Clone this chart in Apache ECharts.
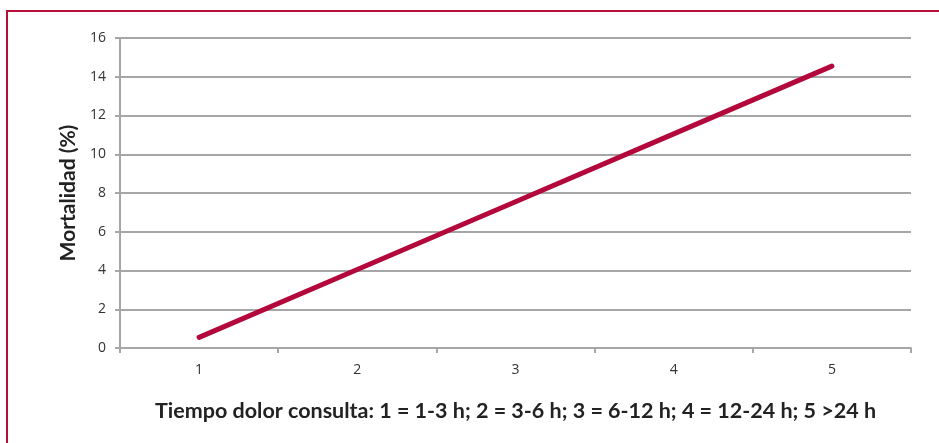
<!DOCTYPE html>
<html><head><meta charset="utf-8">
<script src="https://cdn.jsdelivr.net/npm/echarts@6/dist/echarts.min.js"></script>
<style>html,body{margin:0;padding:0;background:#fff}#c{width:939px;height:443px}</style>
</head><body><div id="c"></div>
<script>
const categories = ['1','2','3','4','5'];
const mortalidad = [0.55, 4.05, 7.55, 11.05, 14.55];
const yTicks = {min:0, max:16, interval:2};
const xTitle = 'Tiempo dolor consulta: 1 = 1-3 h; 2 = 3-6 h; 3 = 6-12 h; 4 = 12-24 h; 5 >24 h';
const yTitle = 'Mortalidad (%)';

const chart = echarts.init(document.getElementById('c'));
const gray = '#a6a6a6';
chart.setOption({
  animation:false,
  textStyle:{fontFamily:'Lato'},
  graphic:[{type:'rect',shape:{x:7,y:11,width:1200,height:1200},style:{fill:'none',stroke:'#b5103c',lineWidth:2}}],
  grid:{left:120,right:28,top:38,bottom:95},
  xAxis:{type:'category',data:categories,boundaryGap:true,
    axisLine:{lineStyle:{color:gray,width:2}},
    axisTick:{show:true,length:5,lineStyle:{color:gray,width:2}},
    axisLabel:{color:'#333',fontSize:14,margin:15,fontFamily:'Open Sans'},
    name:xTitle,nameLocation:'middle',nameGap:52,
    nameTextStyle:{fontWeight:'bold',fontSize:21.5,color:'#222',fontFamily:'Lato'}},
  yAxis:{type:'value',min:yTicks.min,max:yTicks.max,interval:yTicks.interval,
    axisLine:{show:true,lineStyle:{color:gray,width:2}},
    axisTick:{show:true,length:5,lineStyle:{color:gray,width:2}},
    splitLine:{lineStyle:{color:gray,width:2}},
    axisLabel:{color:'#333',fontSize:14,margin:14,fontFamily:'Open Sans'},
    name:yTitle,nameLocation:'middle',nameGap:40,
    nameTextStyle:{fontWeight:'bold',fontSize:21,color:'#222',fontFamily:'Lato'}},
  series:[{type:'line',data:mortalidad,symbol:'none',
    lineStyle:{color:'#b3083b',width:5,cap:'round'}}]
});
</script></body></html>
